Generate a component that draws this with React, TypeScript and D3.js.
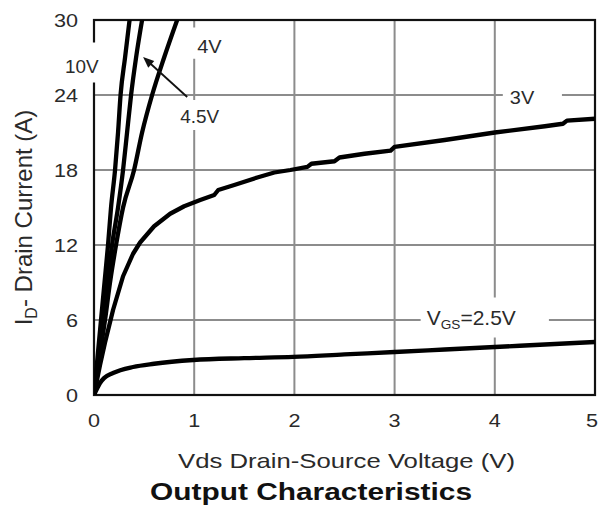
import React from "react";
import * as d3 from "d3";

// Output characteristics: drain current vs drain-source voltage, one curve per gate voltage.
const X_TICKS = [0, 1, 2, 3, 4, 5];
const Y_TICKS = [0, 6, 12, 18, 24, 30];

const VDS_10V = [0, 0.035, 0.07, 0.105, 0.14, 0.17, 0.21, 0.24, 0.265, 0.31, 0.355];
const ID_10V = [0, 3, 6, 9, 12, 15, 18, 21, 24, 27, 30];

const VDS_4V5 = [0, 0.045, 0.09, 0.135, 0.18, 0.24, 0.29, 0.33, 0.37, 0.42, 0.48];
const ID_4V5 = [0, 3, 6, 9, 12, 15, 18, 21, 24, 27, 30];

const VDS_4V = [0, 0.055, 0.11, 0.16, 0.22, 0.29, 0.4, 0.48, 0.58, 0.7, 0.83];
const ID_4V = [0, 3, 6, 9, 12, 15, 18, 21, 24, 27, 30];

const VDS_3V = [0, 0.03, 0.06, 0.11, 0.19, 0.29, 0.39, 0.46, 0.6, 0.76, 0.9, 1.06, 1.2, 1.24, 1.4, 1.63, 1.8, 1.96, 2.13, 2.17, 2.4, 2.45, 2.7, 2.96, 3.0, 3.5, 4.0, 4.5, 4.68, 4.72, 5.0];
const ID_3V = [0, 1.2, 2.4, 4.2, 6.8, 9.5, 11.3, 12.2, 13.5, 14.5, 15.1, 15.6, 16.0, 16.4, 16.8, 17.4, 17.8, 18.0, 18.25, 18.5, 18.7, 19.0, 19.3, 19.55, 19.85, 20.4, 21.0, 21.5, 21.7, 21.95, 22.1];

const VDS_2V5 = [0, 0.03, 0.06, 0.1, 0.19, 0.39, 0.6, 0.99, 1.5, 1.99, 2.5, 3.0, 3.5, 4.0, 4.5, 5.0];
const ID_2V5 = [0, 0.5, 0.96, 1.35, 1.76, 2.24, 2.5, 2.8, 2.95, 3.05, 3.25, 3.44, 3.64, 3.84, 4.04, 4.24];

const SERIES = [
  { name: "10V", vds: VDS_10V, id: ID_10V, smooth: true },
  { name: "4.5V", vds: VDS_4V5, id: ID_4V5, smooth: true },
  { name: "4V", vds: VDS_4V, id: ID_4V, smooth: true },
  { name: "3V", vds: VDS_3V, id: ID_3V, smooth: false },
  { name: "2.5V", vds: VDS_2V5, id: ID_2V5, smooth: true },
];

const W = 599;
const H = 524;
const LEFT = 94;
const RIGHT = 595;
const TOP = 20;
const BOTTOM = 395;
const FONT = "'Liberation Sans', Arial, Helvetica, sans-serif";
const TEXT = "#2a2a2a";
const GRID = "#8c8c8c";

const x = d3.scaleLinear().domain([0, 5]).range([LEFT, RIGHT]);
const y = d3.scaleLinear().domain([0, 30]).range([BOTTOM, TOP]);

function Stretched({ px, py, sx, anchor, size, children, weight }: any) {
  return (
    <text
      transform={`translate(${px},${py}) scale(${sx},1)`}
      textAnchor={anchor}
      fontSize={size}
      fontWeight={weight || "normal"}
      fill={TEXT}
      fontFamily={FONT}
    >
      {children}
    </text>
  );
}

// white patches that open gaps in the grid/frame behind curve labels
const GAPS = [
  { x0: -0.32, x1: 0.07, y0: 28.2, y1: 25.0 },
  { x0: 0.94, x1: 1.32, y0: 29.4, y1: 26.9 },
  { x0: 0.82, x1: 1.28, y0: 23.6, y1: 21.2 },
  { x0: 4.08, x1: 4.67, y0: 24.9, y1: 23.1 },
  { x0: 3.26, x1: 4.54, y0: 7.8, y1: 4.6 },
];

export default function App() {
  const line = d3
    .line<[number, number]>()
    .x((d) => x(d[0]))
    .y((d) => y(d[1]));

  const arrowFrom: [number, number] = [0.93, 23.84];
  const arrowTo: [number, number] = [0.49, 27.04];
  const ax = x(arrowTo[0]);
  const ay = y(arrowTo[1]);
  const ang = Math.atan2(ay - y(arrowFrom[1]), ax - x(arrowFrom[0]));
  const hl = 11;
  const hw = 4.5;
  const head = [
    [ax, ay],
    [ax - hl * Math.cos(ang) + hw * Math.sin(ang), ay - hl * Math.sin(ang) - hw * Math.cos(ang)],
    [ax - hl * Math.cos(ang) - hw * Math.sin(ang), ay - hl * Math.sin(ang) + hw * Math.cos(ang)],
  ];

  return (
    <svg
      width={W}
      height={H}
      style={{ position: "absolute", left: 0, top: 0, background: "#fff" }}
    >
      <defs>
        <clipPath id="plot">
          <rect x={LEFT} y={TOP} width={RIGHT - LEFT} height={BOTTOM - TOP} />
        </clipPath>
      </defs>
      <rect x={0} y={0} width={W} height={H} fill="#fff" />

      {X_TICKS.slice(1, -1).map((t) => (
        <line key={"gx" + t} x1={x(t)} x2={x(t)} y1={TOP} y2={BOTTOM} stroke={GRID} strokeWidth={2} />
      ))}
      {Y_TICKS.slice(1, -1).map((t) => (
        <line key={"gy" + t} x1={LEFT} x2={RIGHT} y1={y(t)} y2={y(t)} stroke={GRID} strokeWidth={2} />
      ))}
      <rect x={LEFT} y={TOP} width={RIGHT - LEFT} height={BOTTOM - TOP} fill="none" stroke="#111" strokeWidth={2.2} />

      {GAPS.map((g, i) => (
        <rect key={"gap" + i} x={x(g.x0)} y={y(g.y0)} width={x(g.x1) - x(g.x0)} height={y(g.y1) - y(g.y0)} fill="#fff" />
      ))}

      <g clipPath="url(#plot)">
        {SERIES.map((s) => {
          const pts = s.vds.map((v, i) => [v, s.id[i]] as [number, number]);
          const gen = line.curve(s.smooth ? d3.curveMonotoneX : d3.curveLinear);
          return (
            <path
              key={s.name}
              d={gen(pts) || ""}
              fill="none"
              stroke="#000"
              strokeWidth={4.3}
              strokeLinejoin="round"
              strokeLinecap="round"
            />
          );
        })}
      </g>

      {/* tick labels */}
      {Y_TICKS.map((t) => (
        <Stretched key={"yt" + t} px={78} py={y(t) + 6.5} sx={1.2} anchor="end" size={18}>
          {t}
        </Stretched>
      ))}
      {X_TICKS.map((t) => (
        <Stretched
          key={"xt" + t}
          px={Math.min(x(t), W - 7)}
          py={427}
          sx={1.2}
          anchor="middle"
          size={18}
        >
          {t}
        </Stretched>
      ))}

      {/* curve labels */}
      <Stretched px={x(-0.29)} py={y(25.8)} sx={1.05} anchor="start" size={18}>10V</Stretched>
      <Stretched px={x(1.03)} py={y(27.35)} sx={1.05} anchor="start" size={19}>4V</Stretched>
      <Stretched px={x(0.86)} py={y(21.75)} sx={1.05} anchor="start" size={18}>4.5V</Stretched>
      <Stretched px={x(4.15)} py={y(23.3)} sx={1.05} anchor="start" size={19}>3V</Stretched>
      <text
        transform={`translate(${x(3.32)},${y(5.6)}) scale(1.05,1)`}
        fontSize={20}
        fill={TEXT}
        fontFamily={FONT}
      >
        V<tspan fontSize={13} dy={4}>GS</tspan>
        <tspan dy={-4}>=2.5V</tspan>
      </text>

      <line
        x1={x(arrowFrom[0])}
        y1={y(arrowFrom[1])}
        x2={ax - 6 * Math.cos(ang)}
        y2={ay - 6 * Math.sin(ang)}
        stroke="#111"
        strokeWidth={1.8}
      />
      <polygon points={head.map((p) => p.join(",")).join(" ")} fill="#111" />

      {/* axis titles */}
      <text
        transform="translate(32,217.5) rotate(-90)"
        textAnchor="middle"
        fontSize={24}
        fill={TEXT}
        fontFamily={FONT}
      >
        I<tspan fontSize={16} dy={5}>D</tspan>
        <tspan dy={-5}>- Drain Current (A)</tspan>
      </text>
      <text
        x={178}
        y={468}
        fontSize={21}
        fill={TEXT}
        fontFamily={FONT}
        textLength={337}
        lengthAdjust="spacingAndGlyphs"
      >
        Vds Drain-Source Voltage (V)
      </text>
      <text
        x={150}
        y={500}
        fontSize={23}
        fontWeight="bold"
        fill="#111"
        fontFamily={FONT}
        textLength={322}
        lengthAdjust="spacingAndGlyphs"
      >
        Output Characteristics
      </text>
    </svg>
  );
}
